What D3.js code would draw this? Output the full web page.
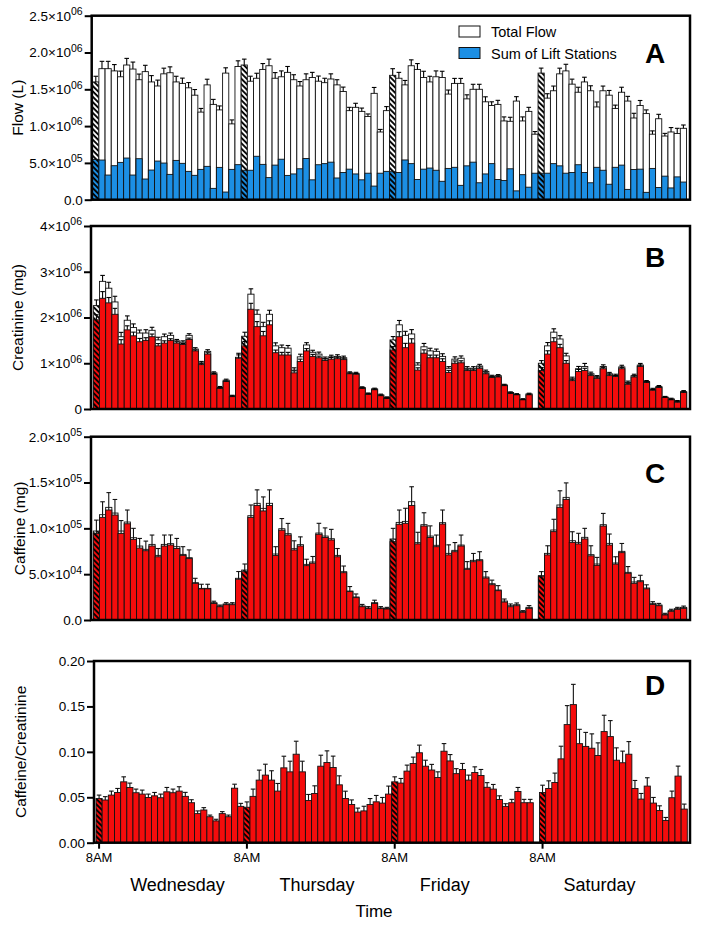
<!DOCTYPE html>
<html><head><meta charset="utf-8">
<script src="https://cdn.jsdelivr.net/npm/d3@7/dist/d3.min.js"></script>
<style>
body{margin:0;background:#fff}
svg{display:block}
text{font-family:"Liberation Sans",Arial,Helvetica,sans-serif;fill:#000}
</style>
</head><body>
<svg id="chart" width="701" height="930"></svg>
<script>
// ---------------- DATA ----------------
// 96 hourly slots: 4 days x 24 h; first slot of each day (hatched) = 8AM marker
const days = ["Wednesday", "Thursday", "Friday", "Saturday"];
const slots = d3.range(96);
const hatchedSlots = [0, 24, 48, 72];
const xTickSlots = [0, 24, 48, 72];
const xTickLabel = "8AM";

// Panel A: flow (units of 10^6 L)
const flowTotal = [
 1.60,1.78,1.78,1.75,1.67,1.83,1.775,1.63,1.74,1.60,1.545,1.71,1.725,1.60,1.58,1.52,1.42,1.19,1.56,1.295,1.22,1.72,1.03,1.81,
 1.83,1.61,1.65,1.77,1.82,1.65,1.67,1.73,1.63,1.545,1.63,1.66,1.61,1.59,1.64,1.56,1.47,1.21,1.255,1.20,1.13,1.445,0.92,1.21,
 1.69,1.65,1.56,1.82,1.77,1.66,1.60,1.67,1.66,1.435,1.58,1.58,1.37,1.50,1.50,1.33,1.28,1.295,1.07,1.065,1.34,1.07,1.20,0.89,
 1.72,1.38,1.48,1.71,1.75,1.57,1.46,1.60,1.48,1.26,1.48,1.42,1.24,1.46,1.34,1.11,1.28,1.17,0.89,1.10,0.865,0.92,0.90,0.97];
const flowTotalErr = [
 .077,.10,.10,.086,.077,.09,.095,.077,.086,.086,.08,.077,.08,.077,.072,.072,.077,.05,.077,.068,.054,.072,.054,.077,
 .08,.068,.068,.08,.09,.077,.08,.08,.068,.06,.08,.07,.07,.06,.07,.07,.06,.045,.055,.045,.035,.08,.035,.055,
 .09,.08,.06,.08,.08,.085,.077,.08,.085,.055,.068,.068,.055,.068,.068,.068,.05,.055,.055,.055,.06,.055,.055,.036,
 .068,.06,.064,.077,.09,.068,.068,.064,.068,.068,.064,.064,.045,.068,.064,.064,.068,.05,.045,.06,.036,.06,.07,.045];
const flowLift = [
 .548,.539,.335,.462,.507,.566,.335,.557,.281,.403,.525,.498,.344,.534,.494,.385,.331,.412,.453,.154,.439,.104,.412,.476,
 .40,.40,.59,.48,.30,.47,.55,.33,.35,.42,.56,.27,.475,.49,.51,.295,.37,.415,.35,.27,.36,.185,.36,.385,
 .38,.37,.54,.49,.275,.415,.43,.40,.25,.425,.44,.195,.46,.51,.23,.35,.49,.275,.26,.42,.12,.34,.17,.36,
 .36,.36,.49,.46,.36,.37,.475,.37,.23,.44,.40,.21,.44,.47,.14,.41,.415,.10,.425,.165,.32,.16,.31,.24];

// Panel B: creatinine (units of 10^6 mg)
const creatTotal = [
 2.26,2.79,2.64,2.34,1.58,1.94,1.78,1.66,1.66,1.72,1.51,1.58,1.61,1.49,1.46,1.61,1.31,1.01,1.26,0.79,0.47,0.63,0.285,1.13,
 1.59,2.51,2.07,1.80,2.07,1.38,1.34,1.33,0.85,1.14,1.40,1.24,1.20,1.10,1.14,1.15,1.12,0.79,0.78,0.47,0.335,0.44,0.31,0.25,
 1.51,1.84,1.61,1.64,0.96,1.36,1.27,1.26,1.15,0.89,1.09,1.11,0.89,0.89,0.94,0.82,0.715,0.73,0.525,0.36,0.32,0.21,0.33,null,
 1.00,1.38,1.68,1.53,1.16,0.66,0.88,0.93,0.77,0.70,0.93,0.77,0.73,0.92,0.58,0.73,0.96,0.60,0.43,0.49,0.26,0.22,0.17,0.38];
const creatTotalErr = [
 .124,.13,.13,.124,.095,.095,.08,.066,.073,.066,.058,.058,.05,.03,.03,.036,.03,.03,.036,.022,.022,.022,.015,.088,
 .088,.117,.095,.095,.088,.066,.058,.058,.05,.058,.05,.044,.044,.036,.036,.036,.036,.022,.022,.015,.015,.015,.015,.015,
 .073,.095,.088,.095,.05,.073,.058,.05,.058,.036,.05,.05,.036,.036,.036,.03,.022,.022,.015,.015,.015,.015,.015,null,
 .058,.073,.073,.073,.058,.036,.05,.066,.036,.03,.036,.03,.03,.036,.03,.03,.036,.022,.022,.022,.015,.015,.015,.022];
const creatLift = [
 1.95,2.42,2.32,2.07,1.42,1.73,1.60,1.47,1.50,1.58,1.38,1.44,1.50,1.44,1.41,1.52,1.27,0.97,1.20,0.76,0.45,0.60,0.27,1.11,
 1.38,2.18,1.80,1.60,1.84,1.23,1.18,1.18,0.79,1.04,1.27,1.15,1.12,1.06,1.09,1.10,1.08,0.77,0.76,0.45,0.32,0.42,0.29,0.23,
 1.29,1.58,1.34,1.44,0.85,1.22,1.12,1.12,1.04,0.80,1.00,1.01,0.84,0.84,0.89,0.77,0.69,0.70,0.51,0.34,0.31,0.20,0.31,null,
 0.84,1.20,1.47,1.34,1.00,0.62,0.82,0.84,0.73,0.67,0.88,0.73,0.71,0.88,0.54,0.70,0.93,0.58,0.41,0.47,0.25,0.20,0.15,0.36];
const creatLiftErr = [
 .11,.146,.117,.13,.095,.088,.08,.073,.058,.058,.05,.05,.036,.03,.022,.03,.022,.022,.03,.015,.015,.015,.01,.073,
 .095,.13,.11,.095,.088,.058,.058,.058,.044,.05,.05,.044,.036,.036,.036,.03,.03,.015,.015,.01,.01,.01,.01,.01,
 .073,.11,.095,.095,.05,.073,.058,.058,.058,.044,.05,.044,.03,.03,.03,.022,.015,.015,.01,.01,.01,.01,.01,null,
 .066,.073,.088,.073,.058,.03,.044,.05,.03,.03,.03,.03,.022,.03,.022,.022,.03,.015,.015,.015,.01,.01,.01,.015];

// Panel C: caffeine (units of 10^5 mg)
const caffTotal = [
 .971,1.149,1.229,1.167,.971,1.069,.898,.807,.771,.825,.705,.825,.833,.80,.716,.68,.407,.345,.345,.189,.153,.175,.175,.455,
 .545,1.138,1.273,1.218,1.273,.72,.996,.942,.778,.822,.607,.633,.949,.916,.887,.705,.527,.316,.251,.153,.131,.189,.131,.127,
 .884,1.065,1.076,1.291,.844,1.04,.916,.815,1.062,.727,.76,.818,.564,.651,.658,.469,.396,.327,.207,.156,.167,.091,.138,null,
 .484,.727,.982,1.255,1.338,.865,.847,.902,.713,.611,1.04,.836,.622,.749,.52,.415,.429,.349,.182,.164,.062,.102,.124,.138];
const caffLift = [
 .945,1.12,1.20,1.145,.945,1.05,.88,.785,.756,.807,.69,.807,.818,.78,.705,.67,.40,.34,.34,.18,.145,.167,.167,.445,
 .527,1.12,1.25,1.19,1.25,.705,.98,.927,.764,.807,.593,.62,.935,.90,.873,.69,.516,.31,.244,.145,.124,.18,.124,.12,
 .855,1.044,1.055,1.25,.83,1.025,.90,.80,1.047,.71,.745,.807,.553,.636,.647,.458,.385,.32,.196,.145,.156,.084,.127,null,
 .473,.71,.964,1.23,1.316,.847,.83,.884,.70,.596,1.025,.818,.61,.735,.51,.40,.418,.34,.17,.156,.055,.095,.116,.127];
const caffLiftErr = [
 .145,.17,.19,.17,.14,.15,.12,.105,.105,.12,.09,.12,.11,.11,.095,.095,.055,.05,.05,.025,.018,.022,.022,.084,
 .084,.135,.17,.153,.17,.095,.127,.127,.10,.10,.07,.073,.12,.105,.116,.09,.073,.055,.04,.025,.022,.036,.022,.018,
 .145,.156,.164,.204,.127,.145,.127,.127,.153,.11,.10,.12,.084,.09,.098,.07,.05,.055,.033,.03,.03,.018,.03,null,
 .055,.10,.135,.18,.18,.116,.116,.116,.11,.087,.138,.12,.08,.10,.073,.065,.07,.044,.03,.025,.018,.022,.022,.025];

// Panel D: caffeine / creatinine
const ratio = [
 .0487,.047,.0524,.0553,.067,.0608,.055,.0535,.0498,.0516,.0495,.056,.055,.0568,.051,.044,.032,.036,.0286,.024,.032,.0286,.060,.040,
 .039,.051,.0689,.0744,.0689,.0568,.0824,.078,.0974,.078,.0465,.0542,.0842,.0883,.0828,.0637,.0487,.042,.0337,.035,.042,.045,.0436,.0535,
 .067,.0656,.0788,.0872,.099,.0842,.080,.0718,.1007,.090,.076,.0806,.0689,.0773,.074,.061,.059,.0476,.040,.044,.0564,.044,.044,null,
 .0553,.0597,.0663,.0923,.130,.152,.109,.106,.104,.096,.1223,.1168,.0908,.088,.0974,.0597,.048,.0623,.0436,.0355,.0245,.0495,.0733,.037];
const ratioErr = [
 .0037,.0037,.0044,.0044,.0055,.0048,.004,.0044,.0037,.0037,.004,.0048,.004,.0048,.0044,.0033,.003,.0026,.0018,.0018,.0022,.0018,.0044,.0033,
 .0059,.008,.011,.012,.0103,.0084,.0128,.0117,.0143,.0117,.0066,.0084,.0121,.0128,.0125,.0099,.008,.0051,.0044,.0051,.0066,.007,.0062,.0088,
 .0055,.0051,.0066,.007,.0084,.0066,.0062,.0062,.0084,.007,.0055,.0066,.0055,.0062,.0066,.0051,.0051,.004,.0029,.0037,.0044,.0037,.0037,null,
 .008,.0084,.0103,.0139,.0209,.0223,.0158,.0154,.0158,.0139,.018,.0176,.0136,.0128,.0139,.0088,.0062,.0092,.0062,.0051,.0033,.0073,.011,.0055];

// Tick values and labels ([mantissa, exponent])
const flowTicks = [0, 0.5, 1.0, 1.5, 2.0, 2.5];
const flowTickText = [["0.0",""],["5.0×10","05"],["1.0×10","06"],["1.5×10","06"],["2.0×10","06"],["2.5×10","06"]];
const creatTicks = [0, 1, 2, 3, 4];
const creatTickText = [["0",""],["1×10","06"],["2×10","06"],["3×10","06"],["4×10","06"]];
const caffTicks = [0, 0.5, 1.0, 1.5, 2.0];
const caffTickText = [["0.0",""],["5.0×10","04"],["1.0×10","05"],["1.5×10","05"],["2.0×10","05"]];
const ratioTicks = [0, 0.05, 0.10, 0.15, 0.20];
const ratioTickText = [["0.00",""],["0.05",""],["0.10",""],["0.15",""],["0.20",""]];

const legendLabels = ["Total Flow", "Sum of Lift Stations"];

// ---------------- STYLE / LAYOUT ----------------
const BLUE = "#1c8fe4", RED = "#f40c0c", WHITE = "#ffffff";
const RIGHT = 690;
const svg = d3.select("#chart");
const defs = svg.append("defs");

function makeHatch(id, bg) {
  const p = defs.append("pattern").attr("id", id)
    .attr("patternUnits", "userSpaceOnUse")
    .attr("width", 3.8).attr("height", 3.8)
    .attr("patternTransform", "rotate(-45)");
  p.append("rect").attr("width", 3.8).attr("height", 3.8).attr("fill", bg);
  p.append("line").attr("x1", 1).attr("y1", -1).attr("x2", 1).attr("y2", 5)
    .attr("stroke", "#000").attr("stroke-width", 1.9);
}
makeHatch("hW", WHITE); makeHatch("hB", BLUE); makeHatch("hR", RED);
const hatchOf = {[WHITE]: "url(#hW)", [BLUE]: "url(#hB)", [RED]: "url(#hR)"};

function panel(cfg) {
  const g = svg.append("g");
  const x = d3.scaleBand().domain(slots).range([cfg.bx0, cfg.bx1]).padding(0);
  const y = d3.scaleLinear().domain([0, cfg.max]).range([cfg.bottom, cfg.top]);
  return {g, x, y, cfg};
}

function bars(P, values, color) {
  P.g.append("g").selectAll("rect")
    .data(slots.filter(i => values[i] != null))
    .join("rect")
    .attr("x", i => P.x(i))
    .attr("y", i => P.y(values[i]))
    .attr("width", P.x.bandwidth())
    .attr("height", i => P.y(0) - P.y(values[i]))
    .attr("fill", i => hatchedSlots.includes(i) ? hatchOf[color] : color)
    .attr("stroke", "#111").attr("stroke-width", 0.9);
}

function errs(P, values, errors, color) {
  const ids = slots.filter(i => values[i] != null && errors[i] != null);
  const eg = P.g.append("g").attr("stroke", color).attr("stroke-width", 1.1);
  const cx = i => P.x(i) + P.x.bandwidth() / 2;
  eg.selectAll("line.v").data(ids).join("line").attr("class", "v")
    .attr("x1", cx).attr("x2", cx)
    .attr("y1", i => P.y(values[i])).attr("y2", i => P.y(values[i] + errors[i]));
  eg.selectAll("line.c").data(ids).join("line").attr("class", "c")
    .attr("x1", i => cx(i) - 2.3).attr("x2", i => cx(i) + 2.3)
    .attr("y1", i => P.y(values[i] + errors[i])).attr("y2", i => P.y(values[i] + errors[i]));
}

function frame(P, ticks, tickText, title, titleX, letter, letterY) {
  const c = P.cfg;
  const ax = P.g.append("g").attr("transform", `translate(${c.axisX},0)`)
    .call(d3.axisLeft(P.y).tickValues(ticks).tickSize(7).tickPadding(2));
  ax.select(".domain").remove();
  ax.selectAll(".tick line").attr("stroke", "#000").attr("stroke-width", 2);
  ax.selectAll(".tick text").each(function(d, i) {
    const t = d3.select(this);
    t.text(null).attr("font-size", 13.5).attr("fill", "#000")
     .attr("font-family", '"Liberation Sans",Arial,sans-serif');
    t.append("tspan").text(tickText[i][0]);
    if (tickText[i][1]) t.append("tspan").attr("dy", -5.5).attr("font-size", 10.5).text(tickText[i][1]);
  });
  P.g.append("rect").attr("x", c.axisX).attr("y", c.top)
    .attr("width", RIGHT - c.axisX).attr("height", c.bottom - c.top)
    .attr("fill", "none").attr("stroke", "#000").attr("stroke-width", 2.5);
  P.g.append("text")
    .attr("transform", `translate(${titleX},${(c.top + c.bottom) / 2}) rotate(-90)`)
    .attr("text-anchor", "middle").attr("font-size", 15.5).text(title);
  P.g.append("text").attr("x", 655).attr("y", letterY)
    .attr("text-anchor", "middle").attr("font-size", 28).attr("font-weight", "bold").text(letter);
}

// ---------------- PANEL A ----------------
const A = panel({top: 15.7, bottom: 199.7, axisX: 91.7, bx0: 92.7, bx1: 686.5, max: 2.5});
bars(A, flowTotal, WHITE);
errs(A, flowTotal, flowTotalErr, "#000");
bars(A, flowLift, BLUE);
frame(A, flowTicks, flowTickText, "Flow (L)", 23, "A", 63.3);
// legend
const lg = A.g.append("g");
[WHITE, BLUE].forEach((col, i) => {
  lg.append("rect").attr("x", 459).attr("y", 26 + i * 21.5).attr("width", 21).attr("height", 11)
    .attr("fill", col).attr("stroke", "#111").attr("stroke-width", 1);
  lg.append("text").attr("x", 491).attr("y", 36.5 + i * 22).attr("font-size", 14.5).text(legendLabels[i]);
});

// ---------------- PANEL B ----------------
const B = panel({top: 226, bottom: 409, axisX: 91, bx0: 93.3, bx1: 686.7, max: 4});
bars(B, creatTotal, WHITE);
errs(B, creatTotal, creatTotalErr, "#000");
bars(B, creatLift, RED);
errs(B, creatLift, creatLiftErr, "#000");
frame(B, creatTicks, creatTickText, "Creatinine (mg)", 23, "B", 266.7);

// ---------------- PANEL C ----------------
const C = panel({top: 436.7, bottom: 620, axisX: 91, bx0: 93.3, bx1: 686.7, max: 2});
bars(C, caffTotal, WHITE);
bars(C, caffLift, RED);
errs(C, caffLift, caffLiftErr, "#111");
frame(C, caffTicks, caffTickText, "Caffeine (mg)", 25, "C", 482.7);

// ---------------- PANEL D ----------------
const D = panel({top: 661, bottom: 842.7, axisX: 94, bx0: 96, bx1: 687.3, max: 0.2});
bars(D, ratio, RED);
errs(D, ratio, ratioErr, "#111");
frame(D, ratioTicks, ratioTickText, "Caffeine/Creatinine", 26, "D", 695);

// x axis (bottom panel only)
const xa = D.g.append("g").attr("transform", `translate(0,${D.cfg.bottom})`)
  .call(d3.axisBottom(D.x).tickValues(xTickSlots).tickFormat(() => xTickLabel).tickSize(6).tickPadding(4));
xa.select(".domain").remove();
xa.selectAll(".tick line").attr("stroke", "#000").attr("stroke-width", 2);
xa.selectAll(".tick text").attr("font-size", 13).attr("fill", "#000")
  .attr("font-family", '"Liberation Sans",Arial,sans-serif');

// day labels
const dayLabelX = [177.5, 317, 444.7, 599.5];
svg.append("g").selectAll("text").data(days).join("text")
  .attr("x", (d, i) => dayLabelX[i]).attr("y", 891)
  .attr("text-anchor", "middle").attr("font-size", 18).text(d => d);
svg.append("text").attr("x", 374).attr("y", 916.5).attr("text-anchor", "middle")
  .attr("font-size", 17).text("Time");
</script>
</body></html>
